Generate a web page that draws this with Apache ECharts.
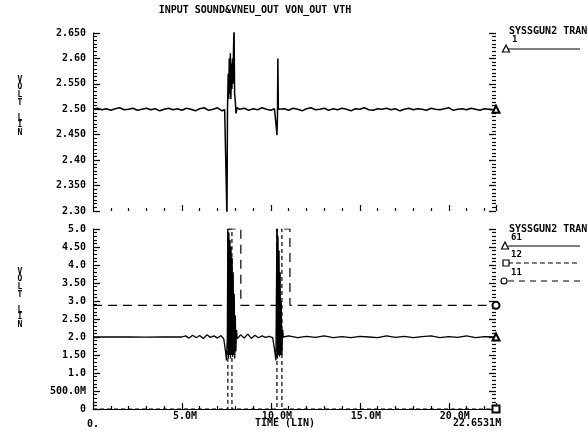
<!DOCTYPE html>
<html><head><meta charset="utf-8">
<script src="https://cdn.jsdelivr.net/npm/echarts@6/dist/echarts.min.js"></script>
<style>html,body{margin:0;padding:0;background:#fff}#c{width:588px;height:432px}</style>
</head><body><div id="c"></div>
<script>
// ---------- data ----------
const chartTitle = 'INPUT SOUND&VNEU_OUT VON_OUT VTH';
const xTickLabels = ['0.', '5.0M', '10.0M', '15.0M', '20.0M'];
const xEndLabel = '22.6531M';
const xAxisName = 'TIME (LIN)';
const yAxisName = 'V\nO\nL\nT\n\nL\nI\nN';
const topTickLabels = ['2.30', '2.350', '2.40', '2.450', '2.50', '2.550', '2.60', '2.650'];
const botTickLabels = ['0', '500.0M', '1.0', '1.50', '2.0', '2.50', '3.0', '3.50', '4.0', '4.50', '5.0'];
const tEnd = 22.6531;

// top panel : trace 1
const topTime = [0,0.25,0.5,0.75,1,1.25,1.5,1.75,2,2.25,2.5,2.75,3,3.25,3.5,3.75,4,4.25,4.5,4.75,5,5.25,5.5,5.75,6,6.25,6.5,6.75,7,7.25,
  7.4,7.5,7.53,7.56,7.6,7.63,7.66,7.69,7.72,7.75,7.78,7.81,7.84,7.87,7.9,7.93,7.96,8.0,8.04,8.1,8.25,
  8.5,8.75,9,9.25,9.5,9.75,10,10.2,
  10.28,10.31,10.34,10.37,10.39,10.42,10.5,
  10.75,11,11.25,11.5,11.75,12,12.25,12.5,12.75,13,13.25,13.5,13.75,14,14.25,14.5,14.75,15,15.25,15.5,15.75,16,16.25,16.5,16.75,17,17.25,17.5,17.75,18,18.25,18.5,18.75,19,19.25,19.5,19.75,20,20.25,20.5,20.75,21,21.25,21.5,21.75,22,22.25,22.5,22.6531];
const topVolt = [2.500,2.502,2.499,2.501,2.498,2.501,2.503,2.499,2.500,2.502,2.498,2.500,2.502,2.499,2.501,2.497,2.500,2.502,2.499,2.501,2.498,2.502,2.500,2.497,2.501,2.503,2.498,2.500,2.503,2.497,
  2.499,2.500,2.290,2.500,2.570,2.520,2.600,2.530,2.610,2.520,2.590,2.540,2.600,2.550,2.620,2.660,2.530,2.515,2.492,2.503,2.500,
  2.502,2.498,2.501,2.499,2.503,2.500,2.498,2.501,
  2.500,2.462,2.449,2.488,2.600,2.500,2.499,
  2.501,2.498,2.502,2.500,2.497,2.501,2.503,2.499,2.500,2.502,2.498,2.501,2.499,2.502,2.500,2.497,2.501,2.500,2.503,2.499,2.498,2.501,2.500,2.502,2.499,2.501,2.497,2.500,2.502,2.499,2.501,2.500,2.498,2.502,2.500,2.499,2.501,2.503,2.498,2.500,2.501,2.499,2.502,2.500,2.498,2.501,2.500,2.499,
  2.500];

// bottom panel : trace 61 (solid)
const b61Time = [0,1,2,3,4,5,5.2,5.4,5.6,5.8,6.0,6.2,6.4,6.6,6.8,7.0,7.2,7.35,7.45,7.5,7.55,7.58,7.61,7.64,7.67,7.70,7.73,7.76,7.79,7.82,7.85,7.88,7.91,7.94,7.97,8.0,8.03,8.07,8.1,8.3,8.5,8.7,8.9,9.1,9.3,9.5,9.7,9.9,10.1,10.22,10.28,10.34,10.37,10.40,10.43,10.46,10.49,10.52,10.55,10.58,10.62,10.66,10.7,11,11.5,12,12.5,13,13.5,14,14.5,15,15.5,16,16.5,17,17.5,18,18.5,19,19.5,20,20.5,21,21.5,22,22.6531];
const b61Volt = [2.0,2.0,2.005,1.995,2.0,2.0,2.03,1.97,2.05,1.98,2.04,1.96,2.06,1.99,2.03,1.97,2.04,1.95,1.6,1.35,2.0,5.0,1.4,4.9,1.5,4.7,1.4,4.5,1.5,4.2,1.45,3.8,1.5,3.2,1.4,2.6,1.6,2.2,1.95,2.06,1.97,2.08,1.96,2.05,1.98,2.03,1.99,2.02,1.98,1.6,1.35,5.0,1.4,4.8,1.5,4.4,1.45,3.8,1.5,3.0,1.5,2.2,2.0,2.03,1.98,2.02,1.99,2.03,1.98,2.01,1.98,2.02,2.0,1.98,2.03,1.99,2.02,1.98,2.01,2.03,1.98,2.01,1.99,2.03,1.98,2.01,2.0];
// trace 12 (short dash)
const b12Time = [0,7.58,7.58,7.81,7.81,10.34,10.34,10.62,10.62,22.6531];
const b12Volt = [0,0,5,5,0,0,5,5,0,0];
// trace 11 (long dash)
const b11Time = [0,7.58,7.58,8.31,8.31,10.34,10.34,11.07,11.07,22.6531];
const b11Volt = [2.88,2.88,5,5,2.88,2.88,5,5,2.88,2.88];

// ---------- chart ----------
const MONO = '"DejaVu Sans Mono", "Liberation Mono", monospace';
function zip(t, v) { const n = Math.min(t.length, v.length); const out = []; for (let i = 0; i < n; i++) out.push([t[i], v[i]]); return out; }
function endSymbol(name, n) { return function (val, p) { return p.dataIndex === n - 1 ? name : 'none'; }; }

function lineSeries(t, v, xi, yi, sym, dash, width) {
  const data = zip(t, v);
  return {
    type: 'line', xAxisIndex: xi, yAxisIndex: yi, data: data,
    showSymbol: true, symbol: endSymbol(sym, data.length), symbolSize: 7,
    itemStyle: { color: '#000', borderColor: '#000', borderWidth: 1.2 },
    lineStyle: { color: '#000', width: width, type: dash },
    animation: false, silent: true, clip: true, z: 3
  };
}

const labelFont = { fontFamily: MONO, fontSize: 10, fontWeight: 'bold', color: '#000' };

function xAxisCfg(grid, showLabels) {
  return {
    gridIndex: grid, type: 'value', min: 0, max: tEnd, interval: 5,
    axisLine: { show: showLabels, onZero: false, lineStyle: { color: '#000', width: 1.2 } },
    axisTick: { show: true, inside: true, length: 6, lineStyle: { color: '#000', width: 1.2 } },
    minorTick: { show: true, splitNumber: 5, length: 3, lineStyle: { color: '#000', width: 1.2 } },
    splitLine: { show: false },
    axisLabel: showLabels ? Object.assign({
      show: true, margin: 2, showMaxLabel: false,
      formatter: function (v) {
        const i = Math.round(v / 5);
        if (Math.abs(v - i * 5) > 1e-6 || i >= xTickLabels.length) return '';
        if (i === 0) return '{low|' + xTickLabels[0] + '}';
        const s = xTickLabels[i];
        return ' '.repeat(s.length - 3) + s;
      },
      rich: { low: { padding: [8, 0, 0, 0], fontFamily: MONO, fontSize: 10, fontWeight: 'bold', color: '#000' } }
    }, labelFont) : { show: false }
  };
}

function yAxisCfg(grid, min, max, interval, minorSplit, labels, pos) {
  const left = pos === 'left';
  return {
    gridIndex: grid, type: 'value', min: min, max: max, interval: interval, position: pos,
    axisLine: { show: left, onZero: false, lineStyle: { color: '#000', width: 1 } },
    axisTick: { show: true, inside: true, length: 7, lineStyle: { color: '#000', width: 1.3 } },
    minorTick: { show: true, splitNumber: minorSplit, length: 4, lineStyle: { color: '#000', width: 1.2 } },
    splitLine: { show: false },
    axisLabel: left ? Object.assign({
      show: true, margin: 7,
      formatter: function (v) { const i = Math.round((v - min) / interval); return labels[i] || ''; }
    }, labelFont) : { show: false }
  };
}

function txt(x, y, text, size, align, extra) {
  return Object.assign({
    type: 'text', x: x, y: y, silent: true,
    style: { text: text, fontFamily: MONO, fontSize: size, fontWeight: 'bold', fill: '#000', align: align || 'left', verticalAlign: 'middle' }
  }, extra || {});
}
function hline(x1, x2, y, dash) {
  return { type: 'line', silent: true, shape: { x1: x1, y1: y, x2: x2, y2: y }, style: { stroke: '#000', lineWidth: 1.2, lineDash: dash || null } };
}
function tri(cx, cy) {
  return { type: 'polygon', silent: true, shape: { points: [[cx, cy - 4], [cx + 3.5, cy + 3], [cx - 3.5, cy + 3]] }, style: { fill: '#fff', stroke: '#000', lineWidth: 1.2 }, z: 10 };
}
function sq(cx, cy) {
  return { type: 'rect', silent: true, shape: { x: cx - 3, y: cy - 3, width: 6, height: 6 }, style: { fill: '#fff', stroke: '#000', lineWidth: 1.2 }, z: 10 };
}
function circ(cx, cy) {
  return { type: 'circle', silent: true, shape: { cx: cx, cy: cy, r: 3 }, style: { fill: '#fff', stroke: '#000', lineWidth: 1.2 }, z: 10 };
}

const yNameTop = txt(20, 76, yAxisName, 8, 'center');
yNameTop.style.verticalAlign = 'top'; yNameTop.style.lineHeight = 7.6;
const yNameBot = txt(20, 268, yAxisName, 8, 'center');
yNameBot.style.verticalAlign = 'top'; yNameBot.style.lineHeight = 7.6;

const option = {
  backgroundColor: '#fff',
  animation: false,
  grid: [
    { left: 93, right: 92, top: 33, height: 178 },
    { left: 93, right: 92, top: 229, height: 180 }
  ],
  xAxis: [xAxisCfg(0, false), xAxisCfg(1, true)],
  yAxis: [
    yAxisCfg(0, 2.30, 2.65, 0.05, 7, topTickLabels, 'left'),
    yAxisCfg(0, 2.30, 2.65, 0.05, 7, topTickLabels, 'right'),
    yAxisCfg(1, 0, 5, 0.5, 5, botTickLabels, 'left'),
    yAxisCfg(1, 0, 5, 0.5, 5, botTickLabels, 'right')
  ],
  series: [
    lineSeries(topTime, topVolt, 0, 0, 'emptyTriangle', 'solid', 1.5),
    lineSeries(b11Time, b11Volt, 1, 2, 'emptyCircle', [9, 6], 1.2),
    lineSeries(b12Time, b12Volt, 1, 2, 'emptyRect', [4, 3], 1.2),
    lineSeries(b61Time, b61Volt, 1, 2, 'emptyTriangle', 'solid', 1.3)
  ],
  graphic: [
    txt(255, 10, chartTitle, 10, 'center'),
    yNameTop, yNameBot,
    txt(285, 423, xAxisName, 10, 'center'),
    txt(453, 423, xEndLabel, 10, 'left'),
    // top legend
    txt(509, 31, 'SYSSGUN2 TRAN', 10, 'left'),
    txt(512, 40, '1', 9, 'left'),
    hline(508, 580, 49), tri(506, 49),
    // bottom legend
    txt(509, 229, 'SYSSGUN2 TRAN', 10, 'left'),
    txt(511, 238, '61', 9, 'left'),
    hline(508, 580, 246), tri(505, 246),
    txt(511, 255, '12', 9, 'left'),
    hline(508, 580, 263, [5, 3]), sq(506, 263),
    txt(511, 273, '11', 9, 'left'),
    hline(508, 580, 281, [6, 5]), circ(504, 281)
  ]
};

const chart = echarts.init(document.getElementById('c'), null, { renderer: 'canvas' });
chart.setOption(option);
</script>
</body></html>
